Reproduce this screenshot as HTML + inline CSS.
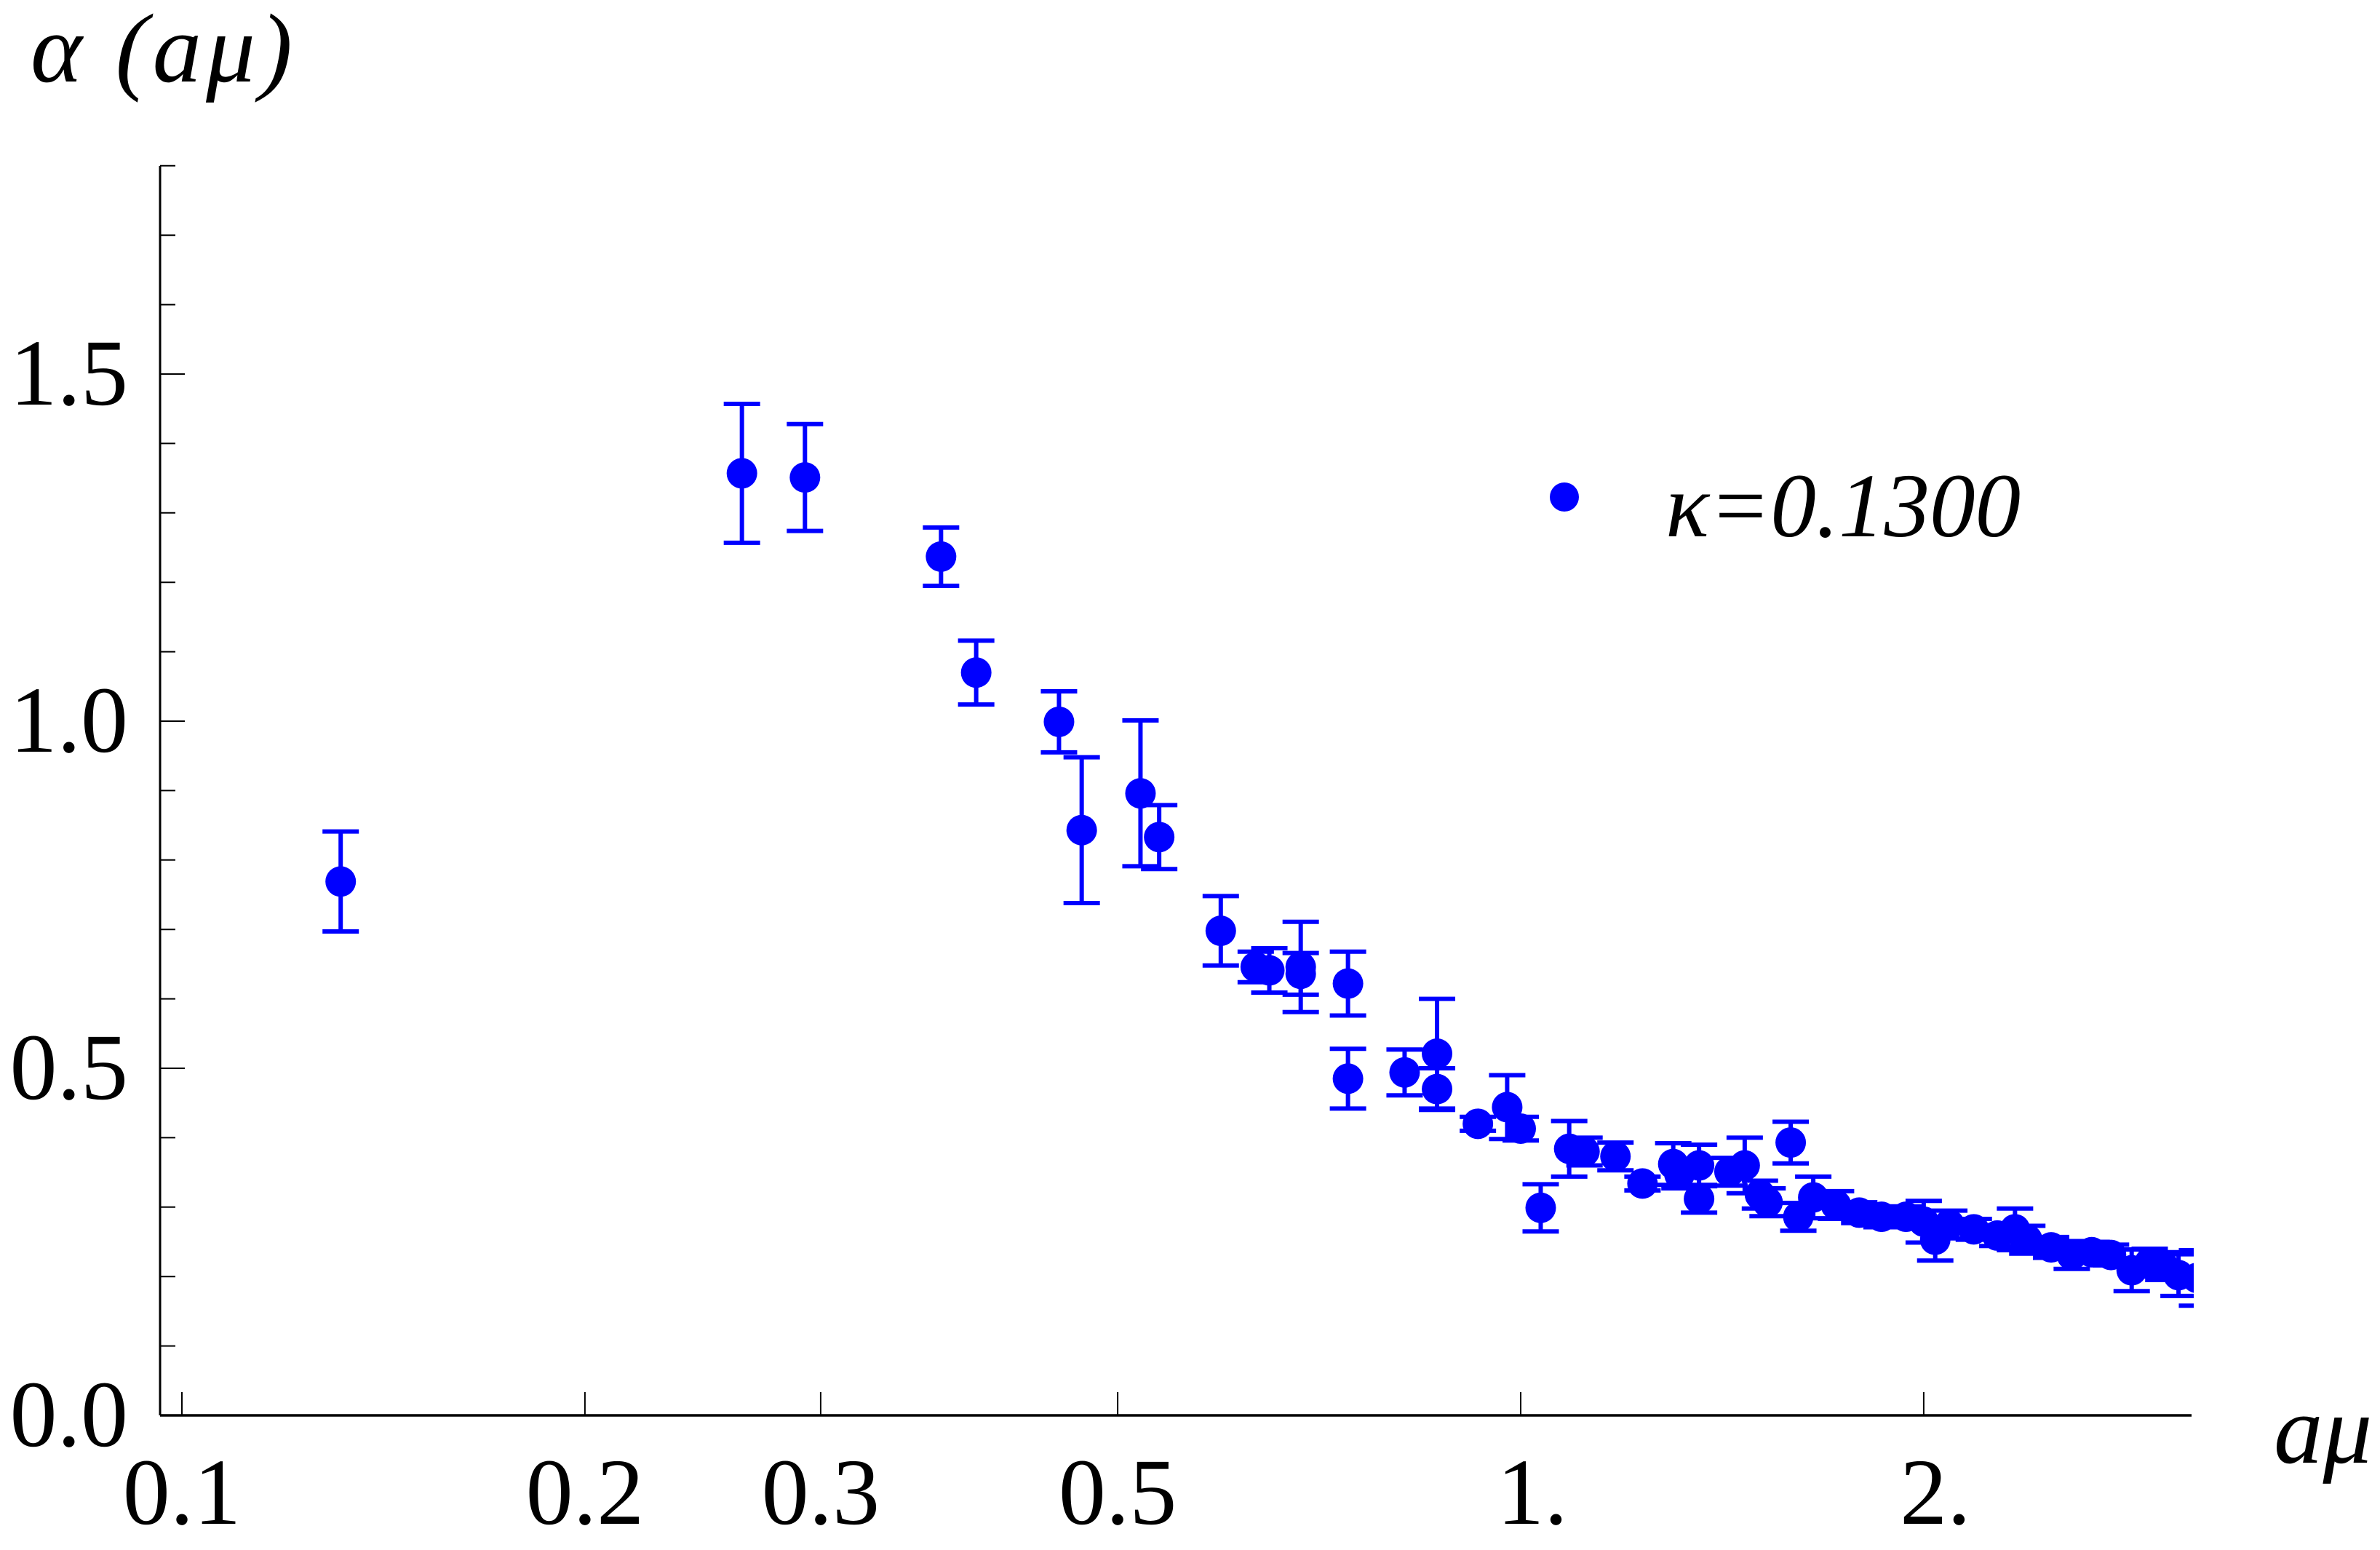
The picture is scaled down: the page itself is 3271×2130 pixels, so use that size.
<!DOCTYPE html>
<html><head><meta charset="utf-8"><style>
html,body{margin:0;padding:0;background:#fff}
svg{display:block}
text{font-family:"Liberation Serif",serif;fill:#000}
</style></head><body>
<svg id="chart" width="3271" height="2130" viewBox="0 0 3271 2130" xmlns="http://www.w3.org/2000/svg">
<defs><clipPath id="plotclip"><rect x="220" y="150" width="2795" height="1800"/></clipPath></defs>
<g id="axes"></g>
<g id="marks" clip-path="url(#plotclip)"></g>
<text x="42" y="112" font-size="135" font-style="italic" letter-spacing="6">α (aμ)</text>
<text x="3125" y="2010" font-size="135" font-style="italic">aμ</text>
<g>
<circle cx="2150" cy="683" r="20" fill="#0000ff"/>
<text x="2289" y="737" font-size="125" font-style="italic">κ=0.1300</text>
</g>
</svg>
<script>
const xs=[0.1314,0.262,0.292,0.369,0.392,0.452,0.470,0.520,0.537,0.597,0.634,0.649,0.685,0.685,0.743,0.743,0.819,0.866,0.866,0.929,0.977,1.0,1.035,1.087,1.116,1.177,1.233,1.300,1.314,1.359,1.359,1.432,1.470,1.509,1.529,1.591,1.612,1.654,1.72,1.79,1.86,1.94,2.0,2.04,2.09,2.18,2.27,2.34,2.39,2.49,2.58,2.67,2.76,2.86,2.95,3.02,3.10,3.2];
const ys=[0.769,1.357,1.351,1.237,1.070,0.999,0.843,0.896,0.833,0.698,0.646,0.641,0.646,0.636,0.622,0.485,0.494,0.521,0.470,0.420,0.444,0.413,0.299,0.384,0.380,0.373,0.334,0.362,0.347,0.360,0.312,0.351,0.360,0.318,0.307,0.393,0.286,0.314,0.303,0.292,0.286,0.286,0.279,0.253,0.275,0.268,0.259,0.268,0.253,0.242,0.231,0.235,0.231,0.209,0.220,0.215,0.202,0.198];
const errs=[0.072,0.10,0.077,0.042,0.046,0.044,0.105,0.105,0.046,0.05,0.022,0.032,0.065,0.03,0.046,0.043,0.033,0.079,0.03,0.01,0.046,0.017,0.034,0.04,0.02,0.02,0.01,0.03,0.02,0.03,0.02,0.02,0.04,0.02,0.02,0.03,0.02,0.03,0.02,0.015,0.015,0.015,0.03,0.03,0.02,0.015,0.015,0.03,0.02,0.015,0.02,0.015,0.015,0.03,0.02,0.02,0.03,0.04];
const yTicks=["0.0","0.5","1.0","1.5"];
const xTicks=["0.1","0.2","0.3","0.5","1.","2."];
const xTickVals=[0.1,0.2,0.3,0.5,1,2];
function X(v){return 250+1840*Math.log10(v/0.1);}
function Y(v){return 1945-954*v;}
const NS="http://www.w3.org/2000/svg";
function mk(tag,attrs,parent){const e=document.createElementNS(NS,tag);for(const k in attrs)e.setAttribute(k,attrs[k]);parent.appendChild(e);return e;}
const ax=document.getElementById('axes');
let l=mk('line',{x1:220,y1:228,x2:220,y2:1945,stroke:'#000','stroke-width':3},ax);


l=mk('line',{x1:220,y1:1945,x2:3012,y2:1945,stroke:'#000','stroke-width':3.5},ax);


for(let i=0;i<=18;i++){const v=i/10;const major=(i%5===0);
 const t=mk('line',{x1:220,y1:Y(v),x2:major?254:241,y2:Y(v),stroke:'#000','stroke-width':2},ax);
 
 }
yTicks.forEach((s)=>{const v=parseFloat(s);
 const t=mk('text',{x:176,y:Y(v)+42,'font-size':130,'text-anchor':'end'},ax);t.textContent=s;
 
 });
xTicks.forEach((s,i)=>{const v=xTickVals[i];
 const tk=mk('line',{x1:X(v),y1:1945,x2:X(v),y2:1913,stroke:'#000','stroke-width':2},ax);
 
 
 const t=mk('text',{x:X(v)+(s.endsWith('.')?16:0),y:2094,'font-size':130,'text-anchor':'middle'},ax);t.textContent=s;
 
 });
const mg=document.getElementById('marks');
xs.forEach((xv,i)=>{const cx=X(xv),cy=Y(ys[i]),top=Y(ys[i]+errs[i]),bot=Y(ys[i]-errs[i]);
 const g=mk('g',{stroke:'#0000ff','stroke-width':6},mg);
 
 
 mk('line',{x1:cx,y1:top,x2:cx,y2:bot},g);
 mk('line',{x1:cx-25,y1:top,x2:cx+25,y2:top},g);
 mk('line',{x1:cx-25,y1:bot,x2:cx+25,y2:bot},g);
 mk('circle',{cx:cx,cy:cy,r:21,fill:'#0000ff',stroke:'none'},g);});
</script>
</body></html>
